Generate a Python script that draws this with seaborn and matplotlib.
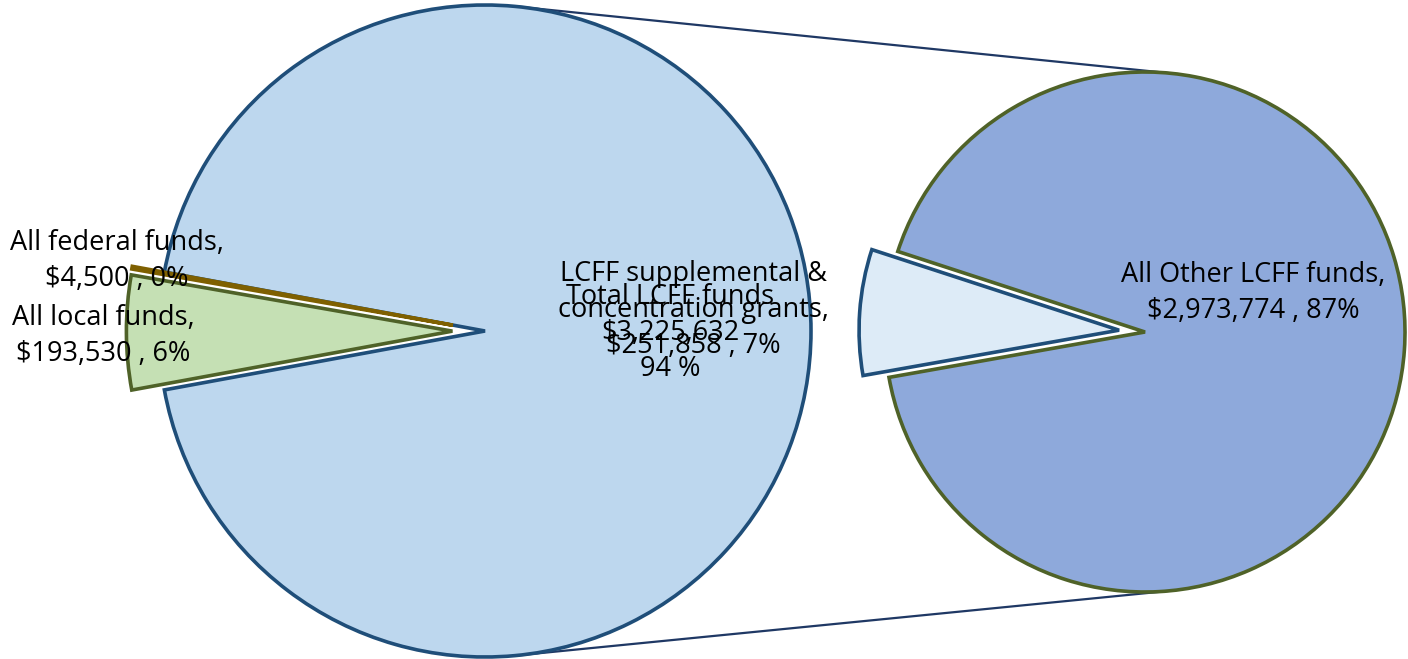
import numpy as np
import matplotlib
matplotlib.use("Agg")
import seaborn as sns
import matplotlib.pyplot as plt

# data
main_labels = ["Total LCFF funds", "All federal funds", "All local funds"]
main_values = [3225632, 4500, 193530]
sub_labels = ["LCFF supplemental & concentration grants", "All Other LCFF funds"]
sub_values = [251858, 2973774]

sns.set_theme(style="white")
plt.rcParams["font.family"] = ["Open Sans", "DejaVu Sans"]

total = sum(main_values)


def pct(v):
    return int(round(100.0 * v / total))


fig = plt.figure(figsize=(14.08, 6.59), dpi=100)
ax = fig.add_axes([0, 0, 1, 1])

# geometry (pixels)
c1, r1 = (485, 328), 326
c2, r2 = (1145, 327), 260

# main pie: LCFF centered on the right, small slices broken out to the left
# (pie's explode is in data units, so scale it by the radius)
start1 = -180.0 * main_values[0] / total
ax.pie(main_values, center=c1, radius=r1, startangle=start1, counterclock=True,
       explode=[0, 0.1 * r1, 0.1 * r1],
       colors=["#BDD7EE", "#7F6000", "#C5E0B4"],
       wedgeprops=dict(linewidth=2.6),
       frame=True)
wedges1 = ax.patches[:3]
for w, ec in zip(wedges1, ["#1F4E79", "#7F6000", "#4F6228"]):
    w.set_edgecolor(ec)

# secondary pie: LCFF split
sub_total = sum(sub_values)
span = 360.0 * sub_values[0] / sub_total
start2 = 176 - span / 2
ax.pie(sub_values, center=c2, radius=r2, startangle=start2, counterclock=True,
       explode=[0.1 * r2, 0],
       colors=["#DDEBF7", "#8EA9DB"],
       wedgeprops=dict(linewidth=2.6),
       frame=True)
wedges2 = ax.patches[3:5]
for w, ec in zip(wedges2, ["#1F4E79", "#4F6228"]):
    w.set_edgecolor(ec)

ax.set_xlim(0, 1408)
ax.set_ylim(0, 659)
ax.set_aspect("equal")
ax.axis("off")

# connector lines: outer tangents between the two circles
d = c2[0] - c1[0]
phi = np.arccos((r1 - r2) / d)
for s in (1, -1):
    x1 = c1[0] + r1 * np.cos(s * phi)
    y1 = c1[1] + r1 * np.sin(s * phi)
    x2 = c2[0] + r2 * np.cos(s * phi)
    y2 = c2[1] + r2 * np.sin(s * phi)
    ax.plot([x1, x2], [y1, y2], color="#1F3864", lw=1.6, zorder=0.5)

fs = 19.5
kw = dict(ha="center", va="center", fontsize=fs, linespacing=1.38, color="black")
ax.text(117, 659 - 261, f"{main_labels[1]},\n${main_values[1]:,} , {pct(main_values[1])}%", **kw)
ax.text(103, 659 - 336, f"{main_labels[2]},\n${main_values[2]:,} , {pct(main_values[2])}%", **kw)
ax.text(670, 659 - 333, f"{main_labels[0]}\n${main_values[0]:,}\n{pct(main_values[0])} %", **kw)
ax.text(693, 659 - 310, "LCFF supplemental &\nconcentration grants,\n"
        f"${sub_values[0]:,} , {pct(sub_values[0])}%", **kw)
ax.text(1253, 659 - 293, f"{sub_labels[1]},\n${sub_values[1]:,} , {pct(sub_values[1])}%", **kw)

fig.savefig("out.png", dpi=100)
plt.close(fig)
